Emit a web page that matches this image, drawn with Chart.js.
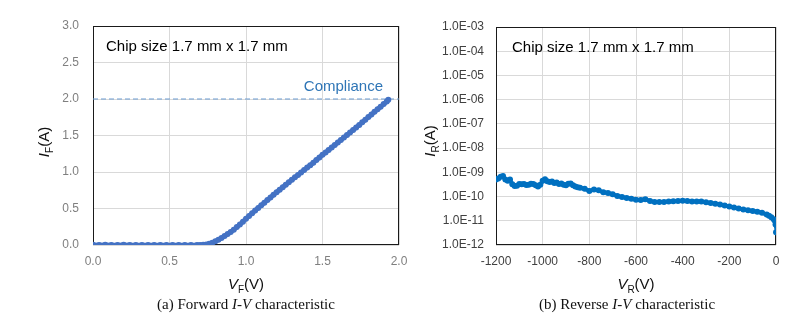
<!DOCTYPE html>
<html>
<head>
<meta charset="utf-8">
<script src="https://cdn.jsdelivr.net/npm/chart.js@4"></script>
<style>
    body { margin: 0; background: #fff; }
    #wrap { position: relative; width: 800px; height: 325px; }
    .box { position: absolute; top: 0; height: 325px; }
    #left_box { left: 0; width: 420px; }
    #right_box { left: 420px; width: 380px; }
</style>
</head>
<body>
<div id="wrap">
    <div class="box" id="left_box"><canvas id="forward_chart"></canvas></div>
    <div class="box" id="right_box"><canvas id="reverse_chart"></canvas></div>
</div>
<script>
// (a) forward I-V
const forward_v = [
    0.00, 0.04, 0.08, 0.12, 0.16, 0.20, 0.24, 0.28, 0.32, 0.36, 0.40, 0.44, 0.48, 0.52, 0.56, 0.60, 0.64, 0.68,
    0.70, 0.72, 0.74, 0.76, 0.78, 0.80, 0.82, 0.84, 0.86, 0.88, 0.90, 0.92, 0.94, 0.96, 0.98, 1.00,
    1.02, 1.04, 1.06, 1.08, 1.10, 1.12, 1.14, 1.16, 1.18, 1.20, 1.22, 1.24, 1.26, 1.28, 1.30,
    1.32, 1.34, 1.36, 1.38, 1.40, 1.42, 1.44, 1.46, 1.48, 1.50, 1.52, 1.54, 1.56, 1.58, 1.60,
    1.62, 1.64, 1.66, 1.68, 1.70, 1.72, 1.74, 1.76, 1.78, 1.80, 1.82, 1.84, 1.86, 1.88, 1.90, 1.92, 1.93
];
const forward_i = [
    0.002, 0.001, 0.002, 0.001, 0.001, 0.002, 0.001, 0.000, 0.001, 0.001, 0.000, 0.001, 0.001, 0.000, 0.001, 0.000, 0.001, 0.001,
    0.001, 0.003, 0.008, 0.018, 0.032, 0.050, 0.072, 0.097, 0.122, 0.150, 0.178, 0.210, 0.245, 0.280, 0.320, 0.360,
    0.398, 0.435, 0.472, 0.508, 0.545, 0.580, 0.617, 0.652, 0.688, 0.722, 0.757, 0.792, 0.826, 0.860, 0.893,
    0.927, 0.960, 0.993, 1.027, 1.060, 1.094, 1.128, 1.163, 1.198, 1.235, 1.268, 1.302, 1.336, 1.370, 1.404,
    1.438, 1.472, 1.506, 1.540, 1.575, 1.610, 1.645, 1.680, 1.716, 1.752, 1.788, 1.824, 1.860, 1.895, 1.930, 1.965, 1.990
];
const compliance_level = 2.0;
const forward_x_ticks = [0.0, 0.5, 1.0, 1.5, 2.0];
const forward_y_ticks = [0.0, 0.5, 1.0, 1.5, 2.0, 2.5, 3.0];

// (b) reverse I-V
const reverse_v = [
    -1200, -1190, -1180, -1170, -1160, -1150, -1140, -1130, -1120, -1110, -1100, -1090, -1080, -1070, -1060,
    -1050, -1040, -1030, -1020, -1010, -1000, -990, -980, -970, -960, -950, -940, -930, -920, -910,
    -900, -890, -880, -870, -860, -850, -840, -820, -800, -780, -760, -740, -720, -700, -680,
    -660, -640, -620, -600, -580, -560, -540, -520, -500, -480, -460, -440, -420, -400, -380,
    -360, -340, -320, -300, -280, -260, -240, -220, -200, -180, -160, -140, -120, -100, -80,
    -60, -40, -30, -20, -10, -5, -2, 0, 0
];
const reverse_i = [
    5.0e-10, 5.5e-10, 6.5e-10, 7.0e-10, 5.0e-10, 4.5e-10, 5.0e-10, 3.2e-10, 2.7e-10, 2.8e-10, 3.3e-10, 3.2e-10, 3.3e-10, 3.0e-10, 3.1e-10,
    3.4e-10, 3.3e-10, 2.9e-10, 2.6e-10, 3.1e-10, 4.5e-10, 5.2e-10, 4.3e-10, 4.0e-10, 4.2e-10, 3.6e-10, 3.8e-10, 3.3e-10, 3.5e-10, 3.1e-10,
    2.9e-10, 3.4e-10, 3.5e-10, 2.9e-10, 2.6e-10, 2.4e-10, 2.3e-10, 2.1e-10, 1.7e-10, 1.95e-10, 1.8e-10, 1.5e-10, 1.4e-10, 1.25e-10, 1.05e-10,
    9.6e-11, 8.8e-11, 8.1e-11, 7.4e-11, 7.2e-11, 7.8e-11, 6.5e-11, 6.0e-11, 6.0e-11, 6.0e-11, 6.2e-11, 6.4e-11, 6.6e-11, 6.7e-11, 6.6e-11,
    6.3e-11, 6.2e-11, 6.2e-11, 5.8e-11, 5.4e-11, 5.1e-11, 4.7e-11, 4.3e-11, 3.9e-11, 3.5e-11, 3.2e-11, 2.9e-11, 2.7e-11, 2.55e-11, 2.35e-11,
    2.15e-11, 1.8e-11, 1.6e-11, 1.4e-11, 1.15e-11, 1.0e-11, 7.0e-12, 9.0e-12, 3.4e-12
];
const reverse_x_ticks = [-1200, -1000, -800, -600, -400, -200, 0];
const reverse_y_ticks = [1e-12, 1e-11, 1e-10, 1e-9, 1e-8, 1e-7, 1e-6, 1e-5, 1e-4, 1e-3];
const reverse_y_labels = ["1.0E-12", "1.0E-11", "1.0E-10", "1.0E-09", "1.0E-08", "1.0E-07", "1.0E-06", "1.0E-05", "1.0E-04", "1.0E-03"];

const chip_text = "Chip size 1.7 mm x 1.7 mm";

function to_points(xs, ys) {
    return xs.map((x, i) => ({ x: x, y: ys[i] }));
}

function draw_title(ctx, x, y, angle, main, sub, rest) {
    const big = '15px "Liberation Sans", Arial, sans-serif';
    const small = '10px "Liberation Sans", Arial, sans-serif';
    ctx.save();
    ctx.translate(x, y);
    ctx.rotate(angle);
    ctx.font = "italic " + big;
    let w1 = ctx.measureText(main).width;
    ctx.font = small;
    let w2 = ctx.measureText(sub).width;
    ctx.font = big;
    let w3 = ctx.measureText(rest).width;
    let px = -(w1 + w2 + w3) / 2;
    ctx.fillStyle = "#111";
    ctx.textAlign = "left";
    ctx.textBaseline = "alphabetic";
    ctx.font = "italic " + big;
    ctx.fillText(main, px, 5);
    px += w1;
    ctx.font = small;
    ctx.fillText(sub, px, 9);
    px += w2;
    ctx.font = big;
    ctx.fillText(rest, px, 5);
    ctx.restore();
}

function draw_caption(ctx, cx, cy, parts) {
    const norm = '15px "Liberation Serif", "Times New Roman", serif';
    ctx.save();
    ctx.fillStyle = "#111";
    ctx.textBaseline = "middle";
    ctx.textAlign = "left";
    let total = 0;
    for (const p of parts) {
        ctx.font = (p.italic ? "italic " : "") + norm;
        total += ctx.measureText(p.text).width;
    }
    let px = cx - total / 2;
    for (const p of parts) {
        ctx.font = (p.italic ? "italic " : "") + norm;
        ctx.fillText(p.text, px, cy);
        px += ctx.measureText(p.text).width;
    }
    ctx.restore();
}

const decor = {
    id: "decor",
    beforeDatasetsDraw(chart, args, opts) {
        const ctx = chart.ctx;
        const a = chart.chartArea;
        ctx.save();
        ctx.strokeStyle = "#1a1a1a";
        ctx.lineWidth = 1;
        ctx.strokeRect(a.left + 0.5, a.top + 0.5, a.width - 1, a.height - 1);
        ctx.restore();
    },
    afterDraw(chart, args, opts) {
        const ctx = chart.ctx;
        const a = chart.chartArea;
        ctx.save();
        ctx.font = '15px "Liberation Sans", Arial, sans-serif';
        ctx.fillStyle = "#000";
        ctx.textBaseline = "middle";
        ctx.textAlign = "left";
        ctx.fillText(chip_text, a.left + opts.chip_dx, a.top + 21);
        if (opts.compliance) {
            ctx.fillStyle = "#2E75B6";
            ctx.textAlign = "right";
            ctx.fillText("Compliance", a.right - 16, chart.scales.y.getPixelForValue(compliance_level) - 12);
        }
        ctx.restore();
        draw_title(ctx, opts.y_title_x, opts.y_title_y, -Math.PI / 2, "I", opts.sub, "(A)");
        draw_title(ctx, opts.x_title_x, 284, 0, "V", opts.sub, "(V)");
        draw_caption(ctx, opts.caption_x, 305, opts.caption);
    }
};

function fix_width(w) {
    return (scale) => { scale.width = w; };
}
function fix_height(h) {
    return (scale) => { scale.height = h; };
}

var forwardChart = new Chart(
    document.getElementById("forward_chart"),
    {
        type: "scatter",
        data: {
            datasets: [
                {
                    label: "Forward",
                    data: to_points(forward_v, forward_i),
                    showLine: true,
                    borderColor: "#4472C4",
                    backgroundColor: "#4472C4",
                    borderWidth: 4.5,
                    pointRadius: 3,
                    pointBorderWidth: 0,
                    order: 0
                },
                {
                    label: "Compliance",
                    data: [{ x: forward_x_ticks[0], y: compliance_level }, { x: forward_x_ticks[forward_x_ticks.length - 1], y: compliance_level }],
                    showLine: true,
                    borderColor: "#6A9BD1",
                    borderWidth: 1,
                    borderDash: [5, 3],
                    pointRadius: 0,
                    order: 1
                }
            ]
        },
        options: {
            responsive: true,
            maintainAspectRatio: false,
            animation: false,
            layout: { padding: { left: 0, right: 21, top: 26, bottom: 0 } },
            plugins: {
                legend: { display: false },
                tooltip: { enabled: false },
                decor: {
                    chip_dx: 13,
                    compliance: true,
                    sub: "F",
                    y_title_x: 44,
                    y_title_y: 142,
                    x_title_x: 246,
                    caption_x: 246,
                    caption: [{ text: "(a) Forward " }, { text: "I-V", italic: true }, { text: " characteristic" }]
                }
            },
            scales: {
                x: {
                    type: "linear",
                    min: forward_x_ticks[0],
                    max: forward_x_ticks[forward_x_ticks.length - 1],
                    afterFit: fix_height(80),
                    afterBuildTicks: (scale) => { scale.ticks = forward_x_ticks.map((v) => ({ value: v })); },
                    grid: { color: "#D9D9D9", drawTicks: false },
                    border: { display: false },
                    ticks: {
                        padding: 9,
                        color: "#7f7f7f",
                        font: { family: "Liberation Sans", size: 12 },
                        callback: (v) => Number(v).toFixed(1)
                    }
                },
                y: {
                    type: "linear",
                    min: forward_y_ticks[0],
                    max: forward_y_ticks[forward_y_ticks.length - 1],
                    afterFit: fix_width(93),
                    afterBuildTicks: (scale) => { scale.ticks = forward_y_ticks.map((v) => ({ value: v })); },
                    grid: { color: "#D9D9D9", drawTicks: false },
                    border: { display: false },
                    ticks: {
                        padding: 14,
                        color: "#7f7f7f",
                        font: { family: "Liberation Sans", size: 12 },
                        callback: (v) => Number(v).toFixed(1)
                    }
                }
            }
        },
        plugins: [decor]
    }
);

const last_reverse = reverse_v.length - 1;

var reverseChart = new Chart(
    document.getElementById("reverse_chart"),
    {
        type: "scatter",
        data: {
            datasets: [
                {
                    label: "Reverse",
                    data: to_points(reverse_v, reverse_i),
                    showLine: true,
                    borderColor: "#0070C0",
                    backgroundColor: "#0070C0",
                    borderWidth: 4,
                    pointRadius: 3,
                    pointBorderWidth: 0,
                    segment: {
                        borderColor: (ctx) => ctx.p1DataIndex === last_reverse ? "rgba(0,0,0,0)" : undefined
                    }
                }
            ]
        },
        options: {
            responsive: true,
            maintainAspectRatio: false,
            animation: false,
            layout: { padding: { left: 0, right: 24, top: 27, bottom: 0 } },
            plugins: {
                legend: { display: false },
                tooltip: { enabled: false },
                decor: {
                    chip_dx: 16,
                    compliance: false,
                    sub: "R",
                    y_title_x: 10,
                    y_title_y: 141,
                    x_title_x: 216,
                    caption_x: 207,
                    caption: [{ text: "(b) Reverse " }, { text: "I-V", italic: true }, { text: " characteristic" }]
                }
            },
            scales: {
                x: {
                    type: "linear",
                    min: reverse_x_ticks[0],
                    max: reverse_x_ticks[reverse_x_ticks.length - 1],
                    afterFit: fix_height(80),
                    afterBuildTicks: (scale) => { scale.ticks = reverse_x_ticks.map((v) => ({ value: v })); },
                    grid: { color: "#D9D9D9", drawTicks: false },
                    border: { display: false },
                    ticks: {
                        padding: 9,
                        color: "#404040",
                        font: { family: "Liberation Sans", size: 12 },
                        callback: (v) => String(v)
                    }
                },
                y: {
                    type: "logarithmic",
                    min: reverse_y_ticks[0],
                    max: reverse_y_ticks[reverse_y_ticks.length - 1],
                    afterFit: fix_width(76),
                    afterBuildTicks: (scale) => { scale.ticks = reverse_y_ticks.map((v) => ({ value: v })); },
                    grid: { color: "#D9D9D9", drawTicks: false },
                    border: { display: false },
                    ticks: {
                        padding: 12,
                        color: "#404040",
                        font: { family: "Liberation Sans", size: 12 },
                        callback: (v, i) => reverse_y_labels[i]
                    }
                }
            }
        },
        plugins: [decor]
    }
);
</script>
</body>
</html>
